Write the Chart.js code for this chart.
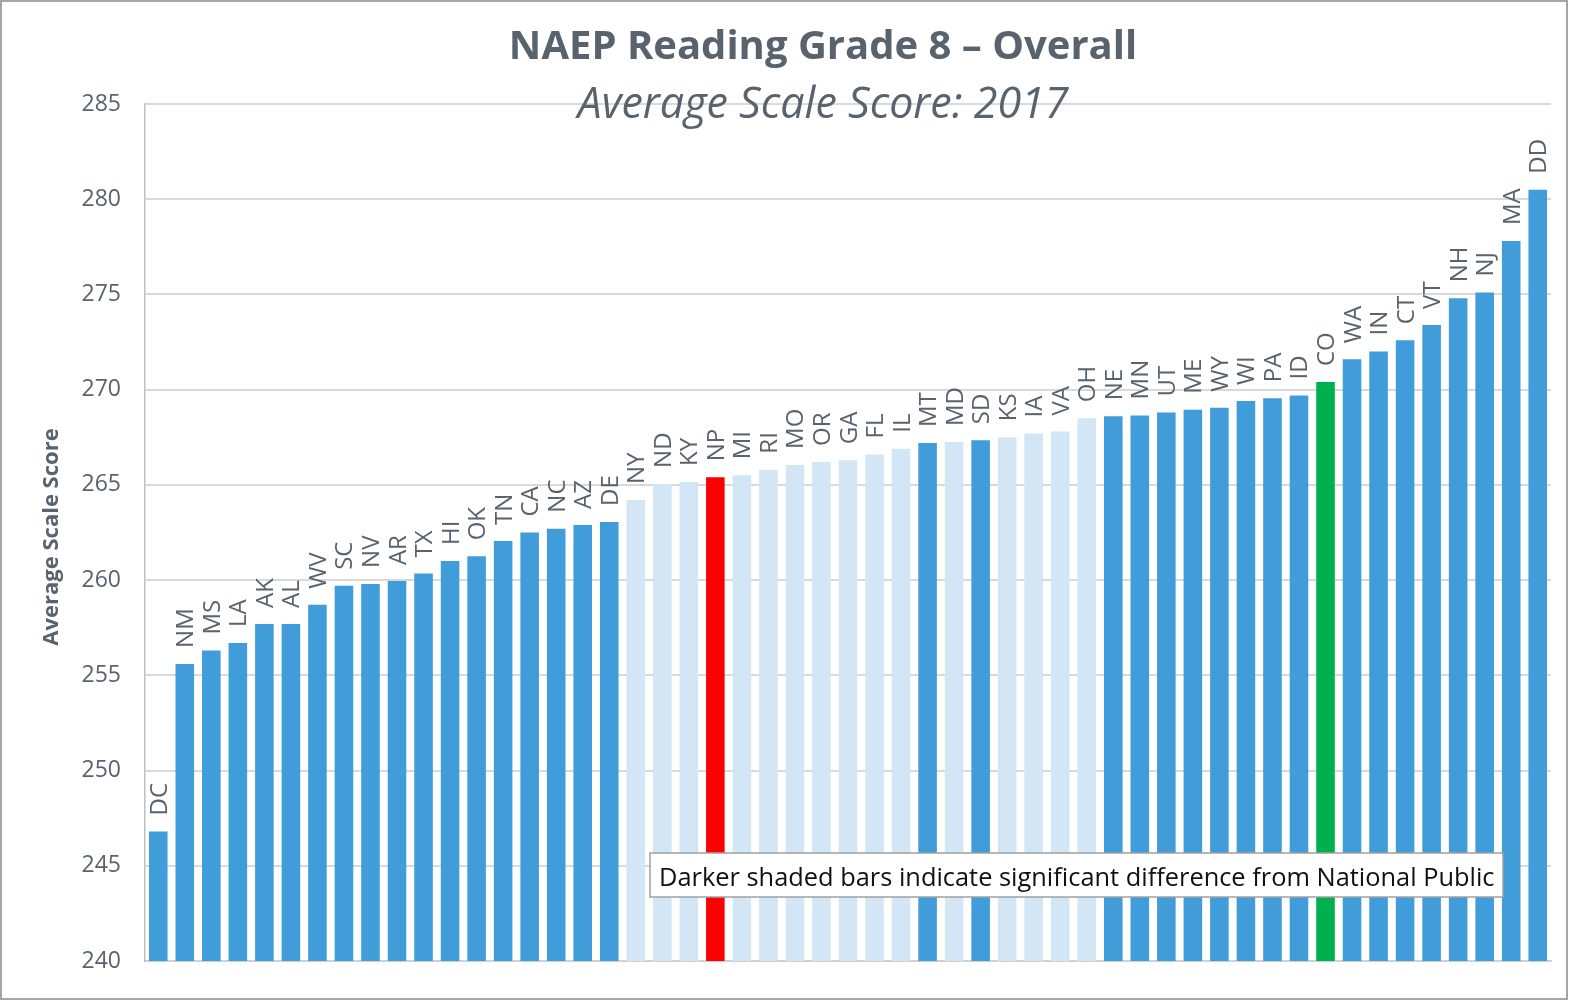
<!DOCTYPE html>
<html>
<head>
<meta charset="utf-8">
<script src="https://cdn.jsdelivr.net/npm/chart.js@4"></script>
<style>
  html, body { margin: 0; padding: 0; background: #fff; }
  #chart { display: block; }
</style>
</head>
<body>
<canvas id="chart" width="1569" height="1001"></canvas>
<script>
// States ordered by score (NP = National Public, DD = DoDEA)
const states = ["DC", "NM", "MS", "LA", "AK", "AL", "WV", "SC", "NV", "AR", "TX", "HI", "OK", "TN",
    "CA", "NC", "AZ", "DE", "NY", "ND", "KY", "NP", "MI", "RI", "MO", "OR", "GA", "FL", "IL",
    "MT", "MD", "SD", "KS", "IA", "VA", "OH", "NE", "MN", "UT", "ME", "WY", "WI", "PA", "ID",
    "CO", "WA", "IN", "CT", "VT", "NH", "NJ", "MA", "DD"];

const scores = [246.8, 255.6, 256.3, 256.7, 257.7, 257.7, 258.7, 259.7, 259.8, 259.95, 260.35, 261.0, 261.25, 262.05,
    262.5, 262.7, 262.9, 263.05, 264.2, 265.05, 265.15, 265.4, 265.5, 265.8, 266.05, 266.2, 266.3, 266.6, 266.9,
    267.2, 267.25, 267.35, 267.5, 267.7, 267.8, 268.5, 268.6, 268.65, 268.8, 268.95, 269.05, 269.4, 269.55, 269.7,
    270.4, 271.6, 272.0, 272.6, 273.4, 274.8, 275.1, 277.8, 280.5];

// States not significantly different from National Public (light bars)
const notSignificant = ["NY", "ND", "KY", "MI", "RI", "MO", "OR", "GA", "FL", "IL", "MD", "KS", "IA", "VA", "OH"];

const yTicks = [240, 245, 250, 255, 260, 265, 270, 275, 280, 285];

const titleText = "NAEP Reading Grade 8 \u2013 Overall";
const subtitleText = "Average Scale Score: 2017";
const yTitle = "Average Scale Score";
const noteText = "Darker shaded bars indicate significant difference from National Public";

const textGray = "#59636E";

// cores das barras
const barColors = states.map(s => {
    if (s === "NP") return "#FF0000";
    if (s === "CO") return "#00B050";
    if (notSignificant.includes(s)) return "#D2E6F5";
    return "#419DD9";
});

// rótulos rotacionados acima das barras, título, nota e borda
const extras = {
    id: "extras",
    afterDatasetsDraw(chart) {
        const ctx = chart.ctx;
        const meta = chart.getDatasetMeta(0);
        ctx.save();
        ctx.fillStyle = textGray;
        ctx.font = "24px 'Open Sans'";
        ctx.textAlign = "left";
        ctx.textBaseline = "alphabetic";
        meta.data.forEach((bar, i) => {
            ctx.save();
            ctx.translate(bar.x, bar.y - 16);
            ctx.rotate(-Math.PI / 2);
            ctx.fillText(states[i], 0, 8.5);
            ctx.restore();
        });
        ctx.restore();
    },
    afterDraw(chart) {
        const ctx = chart.ctx;
        ctx.save();
        // título
        ctx.fillStyle = textGray;
        ctx.textAlign = "center";
        ctx.textBaseline = "alphabetic";
        ctx.font = "bold 40px 'Open Sans'";
        ctx.fillText(titleText, 823, 59);
        ctx.font = "italic 43px 'Open Sans'";
        ctx.fillText(subtitleText, 823, 118);

        // título do eixo y
        ctx.save();
        ctx.translate(58, 537);
        ctx.rotate(-Math.PI / 2);
        ctx.font = "bold 22px 'Open Sans'";
        ctx.fillText(yTitle, 0, 0);
        ctx.restore();

        // caixa de nota
        ctx.fillStyle = "#FFFFFF";
        ctx.fillRect(650, 853, 853, 44);
        ctx.strokeStyle = "#A0A0A0";
        ctx.lineWidth = 1.5;
        ctx.strokeRect(650, 853, 853, 44);
        ctx.fillStyle = "#111111";
        ctx.textAlign = "left";
        ctx.font = "25.4px 'Open Sans'";
        ctx.fillText(noteText, 659, 886);

        // borda externa
        ctx.strokeStyle = "#A6A6A6";
        ctx.lineWidth = 2;
        ctx.strokeRect(1, 1, 1566, 998);
        ctx.restore();
    }
};

new Chart(document.getElementById("chart"), {
    type: "bar",
    plugins: [extras],
    data: {
        labels: states,
        datasets: [{
            data: scores,
            backgroundColor: barColors,
            borderWidth: 0,
            barPercentage: 0.7,
            categoryPercentage: 1.0,
        }],
    },
    options: {
        responsive: false,
        animation: false,
        layout: { padding: { top: 104, bottom: 40, right: 18, left: 0 } },
        plugins: {
            legend: { display: false },
            tooltip: { enabled: false },
            title: { display: false },
        },
        scales: {
            x: {
                ticks: { display: false },
                grid: { display: false, drawTicks: false },
                border: { display: true, color: "#D0D0D0", width: 2 },
            },
            y: {
                min: 240,
                max: 285,
                afterBuildTicks: (scale) => { scale.ticks = yTicks.map(v => ({ value: v })); },
                afterFit: (scale) => { scale.width = 145; },
                ticks: {
                    color: textGray,
                    font: { family: "'Open Sans'", size: 23 },
                    padding: 24,
                },
                grid: { color: "#D9D9D9", lineWidth: 2, drawTicks: false },
                border: { display: true, color: "#BFBFBF", width: 1.5 },
            },
        },
    },
});
</script>
</body>
</html>
